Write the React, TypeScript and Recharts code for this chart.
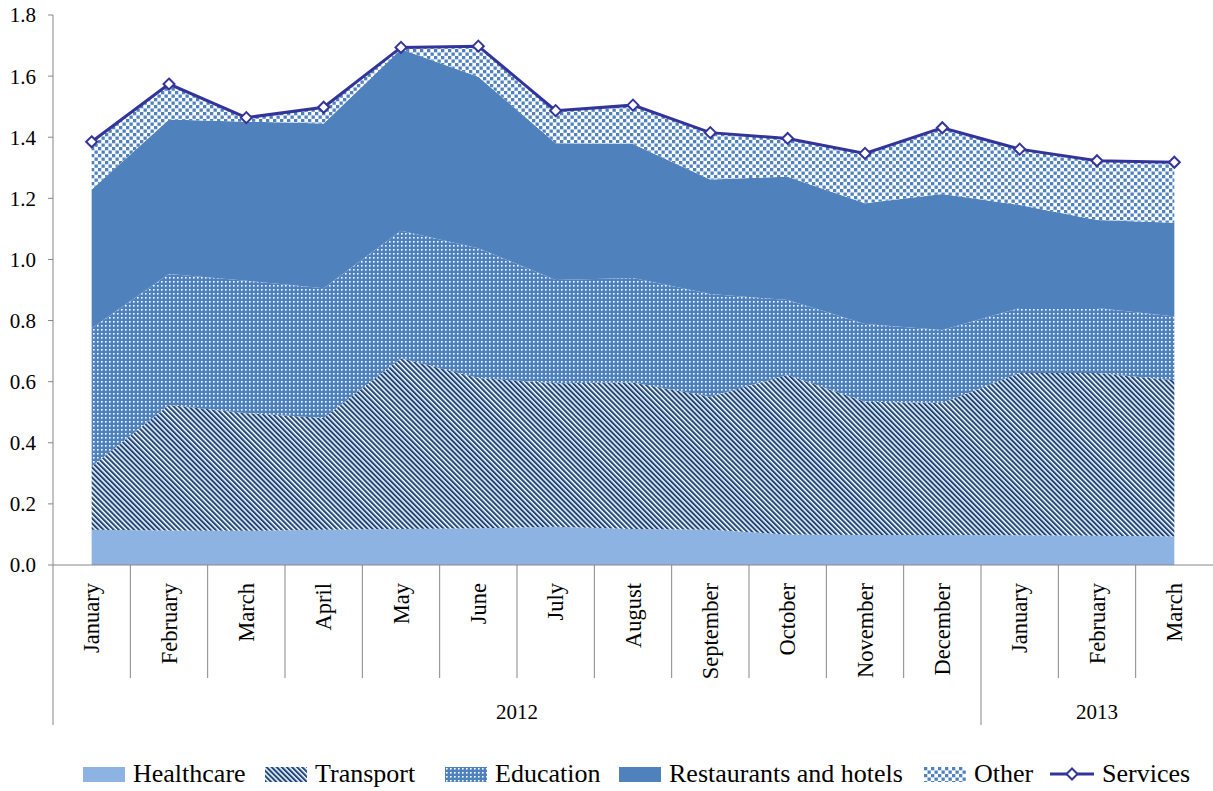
import React from "react"
import { ComposedChart, Area, Line, XAxis, YAxis, Legend } from "recharts"

const months = [
  "January", "February", "March", "April", "May", "June", "July", "August",
  "September", "October", "November", "December", "January", "February", "March",
]
const yearLabels = ["2012", "2013"]
const yearSpans = [12, 3]

const healthcare = [0.115, 0.113, 0.112, 0.115, 0.118, 0.12, 0.125, 0.118, 0.115, 0.1, 0.098, 0.098, 0.097, 0.096, 0.093]
const transport = [0.207, 0.411, 0.385, 0.366, 0.559, 0.492, 0.47, 0.479, 0.436, 0.522, 0.436, 0.432, 0.531, 0.532, 0.512]
const education = [0.453, 0.428, 0.433, 0.425, 0.417, 0.425, 0.338, 0.342, 0.336, 0.245, 0.255, 0.239, 0.213, 0.213, 0.208]
const restaurants = [0.454, 0.506, 0.521, 0.539, 0.594, 0.561, 0.447, 0.439, 0.375, 0.404, 0.395, 0.445, 0.337, 0.288, 0.307]
const other = [0.156, 0.116, 0.013, 0.053, 0.006, 0.1, 0.107, 0.127, 0.153, 0.125, 0.163, 0.217, 0.183, 0.194, 0.198]
const services = [1.385, 1.574, 1.464, 1.498, 1.694, 1.698, 1.487, 1.505, 1.415, 1.396, 1.347, 1.431, 1.361, 1.323, 1.318]

const yTicks = [0, 0.2, 0.4, 0.6, 0.8, 1.0, 1.2, 1.4, 1.6, 1.8]

const data = months.map((m, i) => ({
  key: `${m}-${i}`,
  healthcare: healthcare[i],
  transport: transport[i],
  education: education[i],
  restaurants: restaurants[i],
  other: other[i],
  services: services[i],
}))

const FONT = "'Liberation Serif', 'Times New Roman', serif"
const AXIS = "#868686"
const LINE = "#33349A"

const W = 1213
const H = 791
const PLOT_LEFT = 53
const PLOT_RIGHT = W
const PLOT_BOTTOM = 565
const BW = (PLOT_RIGHT - PLOT_LEFT) / months.length

const yearStarts = yearSpans.map((_, k) => yearSpans.slice(0, k).reduce((a, b) => a + b, 0))

function Patterns({ p }: { p: string }) {
  return (
    <defs>
      <pattern id={`${p}-transport`} width="3.6" height="3.6" patternUnits="userSpaceOnUse" patternTransform="rotate(-45)">
        <rect width="3.6" height="3.6" fill="#ffffff" />
        <rect width="2.1" height="3.6" fill="#1F497D" />
      </pattern>
      <pattern id={`${p}-education`} width="4" height="4" patternUnits="userSpaceOnUse">
        <rect width="4" height="4" fill="#4F81BD" />
        <rect x="1" y="1" width="1.6" height="1.6" fill="#ffffff" />
      </pattern>
      <pattern id={`${p}-other`} width="7" height="7" patternUnits="userSpaceOnUse">
        <rect width="7" height="7" fill="#ffffff" />
        <rect x="0" y="0" width="3.3" height="3.3" fill="#4F81BD" />
        <rect x="3.5" y="3.5" width="3.3" height="3.3" fill="#4F81BD" />
      </pattern>
    </defs>
  )
}

function MonthTick(props: any) {
  const { x, payload } = props
  const i = payload.index
  const left = x - BW / 2
  const yearIdx = yearStarts.indexOf(i)
  return (
    <g>
      <text
        x={x}
        y={583}
        transform={`rotate(-90, ${x}, 583)`}
        textAnchor="end"
        dominantBaseline="central"
        fontFamily={FONT}
        fontSize={22.5}
        fill="#000"
      >
        {months[i]}
      </text>
      {i > 0 && yearIdx < 0 && (
        <line x1={left} x2={left} y1={PLOT_BOTTOM} y2={678} stroke={AXIS} strokeWidth={1} />
      )}
      {yearIdx >= 0 && (
        <>
          <line x1={left} x2={left} y1={PLOT_BOTTOM} y2={725} stroke={AXIS} strokeWidth={1} />
          <text
            x={left + (yearSpans[yearIdx] * BW) / 2}
            y={712}
            textAnchor="middle"
            dominantBaseline="central"
            fontFamily={FONT}
            fontSize={21}
            fill="#000"
          >
            {yearLabels[yearIdx]}
          </text>
        </>
      )}
    </g>
  )
}

function Diamond(props: any) {
  const { cx, cy } = props
  if (cx == null || cy == null) return null
  const r = 5.5
  return (
    <polygon
      points={`${cx},${cy - r} ${cx + r},${cy} ${cx},${cy + r} ${cx - r},${cy}`}
      fill="#fff"
      stroke={LINE}
      strokeWidth={2}
    />
  )
}

const legendItems = [
  { name: "Healthcare", fill: "#8DB3E2", left: 83 },
  { name: "Transport", fill: "url(#lg-transport)", left: 265 },
  { name: "Education", fill: "url(#lg-education)", left: 445 },
  { name: "Restaurants and hotels", fill: "#4F81BD", left: 619 },
  { name: "Other", fill: "url(#lg-other)", left: 924 },
]

function LegendRow() {
  return (
    <div style={{ position: "relative", height: 30, fontFamily: FONT, fontSize: 26, color: "#000" }}>
      <svg width={0} height={0} style={{ position: "absolute" }}>
        <Patterns p="lg" />
      </svg>
      {legendItems.map((it) => (
        <div key={it.name} style={{ position: "absolute", left: it.left, top: 0, height: 30, display: "flex", alignItems: "center" }}>
          <svg width={42} height={15} style={{ marginRight: 8 }}>
            <rect width={42} height={15} fill={it.fill} />
          </svg>
          <span style={{ lineHeight: "30px", whiteSpace: "nowrap" }}>{it.name}</span>
        </div>
      ))}
      <div style={{ position: "absolute", left: 1050, top: 0, height: 30, display: "flex", alignItems: "center" }}>
        <svg width={44} height={16} style={{ marginRight: 8 }}>
          <line x1={0} x2={44} y1={8} y2={8} stroke={LINE} strokeWidth={3} />
          <polygon points="22,2.5 27.5,8 22,13.5 16.5,8" fill="#fff" stroke={LINE} strokeWidth={2} />
        </svg>
        <span style={{ lineHeight: "30px", whiteSpace: "nowrap" }}>Services</span>
      </div>
    </div>
  )
}

export default function App() {
  return (
    <div style={{ position: "absolute", left: 0, top: 0 }}>
      <ComposedChart width={W} height={H} data={data} margin={{ top: 15, right: 0, bottom: 2, left: 0 }}>
        <Patterns p="ch" />
        <XAxis
          dataKey="key"
          interval={0}
          height={194}
          padding={{ left: BW / 2, right: BW / 2 }}
          axisLine={{ stroke: AXIS }}
          tickLine={false}
          tick={<MonthTick />}
        />
        <YAxis
          width={53}
          domain={[0, 1.8]}
          ticks={yTicks}
          interval={0}
          tickFormatter={(v: number) => v.toFixed(1)}
          axisLine={{ stroke: AXIS }}
          tickLine={{ stroke: AXIS }}
          tickSize={5}
          tickMargin={12}
          tick={{ fontFamily: FONT, fontSize: 21, fill: "#000" }}
        />
        <Area dataKey="healthcare" stackId="s" type="linear" stroke="none" fill="#8DB3E2" fillOpacity={1} isAnimationActive={false} />
        <Area dataKey="transport" stackId="s" type="linear" stroke="none" fill="url(#ch-transport)" fillOpacity={1} isAnimationActive={false} />
        <Area dataKey="education" stackId="s" type="linear" stroke="none" fill="url(#ch-education)" fillOpacity={1} isAnimationActive={false} />
        <Area dataKey="restaurants" stackId="s" type="linear" stroke="none" fill="#4F81BD" fillOpacity={1} isAnimationActive={false} />
        <Area dataKey="other" stackId="s" type="linear" stroke="none" fill="url(#ch-other)" fillOpacity={1} isAnimationActive={false} />
        <Line dataKey="services" type="linear" stroke={LINE} strokeWidth={3} dot={<Diamond />} activeDot={false} isAnimationActive={false} />
        <Legend verticalAlign="bottom" content={() => <LegendRow />} wrapperStyle={{ left: 0, width: W }} />
      </ComposedChart>
    </div>
  )
}
